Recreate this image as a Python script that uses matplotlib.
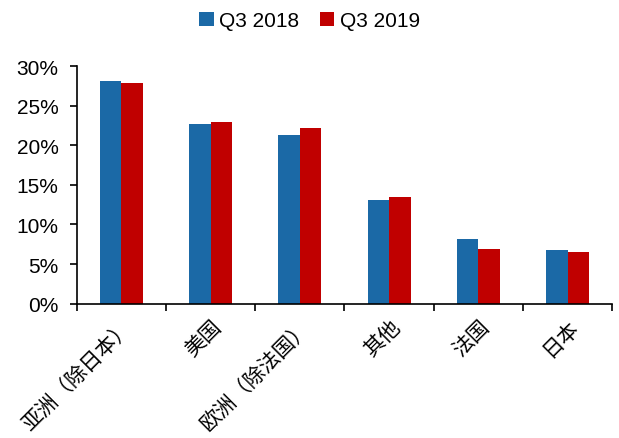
import matplotlib
matplotlib.use("Agg")
import matplotlib.pyplot as plt
import numpy as np
from matplotlib.ticker import FuncFormatter, FixedLocator

plt.rcParams['font.family'] = ['Liberation Sans', 'Noto Sans CJK SC', 'DejaVu Sans']

categories = ['亚洲（除日本）', '美国', '欧洲（除法国）', '其他', '法国', '日本']
series_names = ['Q3 2018', 'Q3 2019']
q3_2018 = [28.15, 22.65, 21.35, 13.05, 8.15, 6.75]
q3_2019 = [27.9, 22.9, 22.2, 13.5, 6.9, 6.55]
colors = ['#1B69A6', '#C00000']

fig = plt.figure(figsize=(6.19, 4.39), dpi=100)
ax = fig.add_axes([0.124, 0.306, 0.865, 0.541])

x = np.arange(len(categories))
w = 0.24
ax.bar(x - w/2, np.array(q3_2018)/100, width=w, color=colors[0], label=series_names[0])
ax.bar(x + w/2, np.array(q3_2019)/100, width=w, color=colors[1], label=series_names[1])

ax.set_xlim(-0.5, len(categories) - 0.5)
ax.set_ylim(0, 0.30)
ax.set_yticks(np.arange(0, 0.301, 0.05))
ax.yaxis.set_major_formatter(FuncFormatter(lambda v, p: f"{v*100:.0f}%"))
ax.tick_params(axis='y', labelsize=15, length=5, width=1.2, direction='out', pad=8)

ax.set_xticks(x)
ax.set_xticklabels(categories, rotation=45, ha='right', rotation_mode='anchor',
                   fontsize=15, family=['Noto Sans CJK SC'], fontweight='light')
ax.tick_params(axis='x', which='major', length=0, pad=8)
ax.xaxis.set_minor_locator(FixedLocator(np.arange(-0.5, len(categories), 1.0)))
ax.tick_params(axis='x', which='minor', length=5, width=1.2, direction='out')

for s in ['top', 'right']:
    ax.spines[s].set_visible(False)
for s in ['left', 'bottom']:
    ax.spines[s].set_linewidth(1.2)
    ax.spines[s].set_color('black')

fig.legend(loc='upper center', bbox_to_anchor=(0.5, 1.015), ncol=2, frameon=False,
           fontsize=15, handlelength=0.7, handleheight=0.7, handletextpad=0.25,
           columnspacing=1.0)

fig.savefig('out.png', dpi=100)
